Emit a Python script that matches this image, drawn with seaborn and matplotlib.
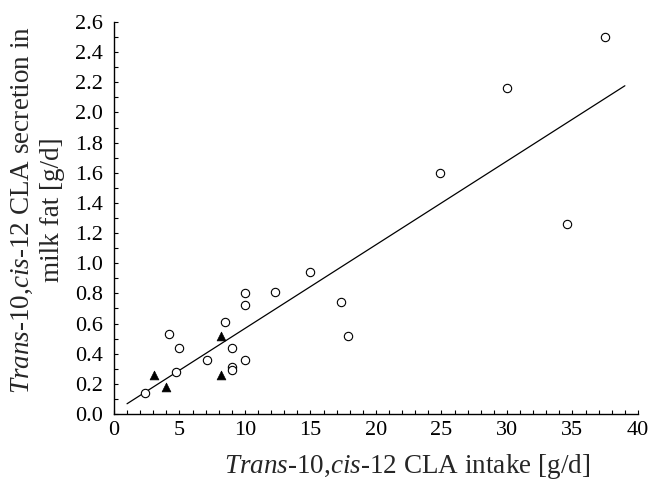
import matplotlib
matplotlib.use("Agg")
import matplotlib.pyplot as plt
import seaborn as sns
import pandas as pd
from matplotlib.ticker import MultipleLocator, FormatStrFormatter

# ---- data ----
x_open = [2.4, 4.2, 4.7, 5.0, 7.1, 8.5, 9.0, 9.0, 9.0, 10.0, 10.0, 10.0, 12.3, 15.0, 17.3, 17.9, 24.9, 30.0, 34.6, 37.5]
y_open = [0.14, 0.53, 0.28, 0.44, 0.36, 0.61, 0.44, 0.31, 0.29, 0.36, 0.72, 0.80, 0.81, 0.94, 0.74, 0.52, 1.60, 2.16, 1.26, 2.50]
x_tri = [3.05, 4.0, 8.15, 8.15]
y_tri = [0.26, 0.18, 0.52, 0.26]
fit_x = [1.0, 39.0]
fit_y = [0.068, 2.177]

sns.set_style("ticks")
plt.rcParams["font.family"] = ["Liberation Serif", "DejaVu Serif"]
plt.rcParams["mathtext.fontset"] = "custom"
plt.rcParams["mathtext.rm"] = "Liberation Serif"
plt.rcParams["mathtext.it"] = "Liberation Serif:italic"
plt.rcParams["mathtext.bf"] = "Liberation Serif:bold"

fig = plt.figure(figsize=(6.51, 4.84), dpi=100)
ax = fig.add_axes([0.175, 0.1446, 0.805, 0.81])

df_open = pd.DataFrame({"x": x_open, "y": y_open})
df_tri = pd.DataFrame({"x": x_tri, "y": y_tri})
df_fit = pd.DataFrame({"x": fit_x, "y": fit_y})

sns.lineplot(data=df_fit, x="x", y="y", ax=ax, color="black", linewidth=0.9)
sns.scatterplot(data=df_open, x="x", y="y", ax=ax, marker="o", s=36,
                facecolor="white", edgecolor="black", linewidth=0.8, zorder=3)
sns.scatterplot(data=df_tri, x="x", y="y", ax=ax, marker="^", s=40,
                color="black", edgecolor="black", linewidth=0.5, zorder=3)

ax.set_xlim(0, 40)
ax.set_ylim(0, 2.6)
ax.xaxis.set_major_locator(MultipleLocator(5))
ax.xaxis.set_minor_locator(MultipleLocator(1))
ax.yaxis.set_major_locator(MultipleLocator(0.2))
ax.yaxis.set_minor_locator(MultipleLocator(0.1))
ax.yaxis.set_major_formatter(FormatStrFormatter("%.1f"))
ax.tick_params(which="both", direction="in", length=3, width=0.8, labelsize=16, colors="black")
ax.tick_params(axis="x", which="both", pad=5)
ax.tick_params(axis="y", which="both", pad=8)
for s in ["top", "right"]:
    ax.spines[s].set_visible(False)
for s in ["left", "bottom"]:
    ax.spines[s].set_linewidth(1.0)
    ax.spines[s].set_color("black")

ax.set_xlabel(r"$\it{Trans}$-10,$\it{cis}$-12 CLA intake [g/d]", fontsize=19.5)
ax.set_ylabel(r"$\it{Trans}$-10,$\it{cis}$-12 CLA secretion in" + "\n" + "milk fat [g/d]",
              fontsize=19.5, linespacing=1.25)
ax.xaxis.set_label_coords(0.56, -0.098)
ax.yaxis.set_label_coords(-0.094, 0.52)

fig.savefig("out.png", dpi=100)
